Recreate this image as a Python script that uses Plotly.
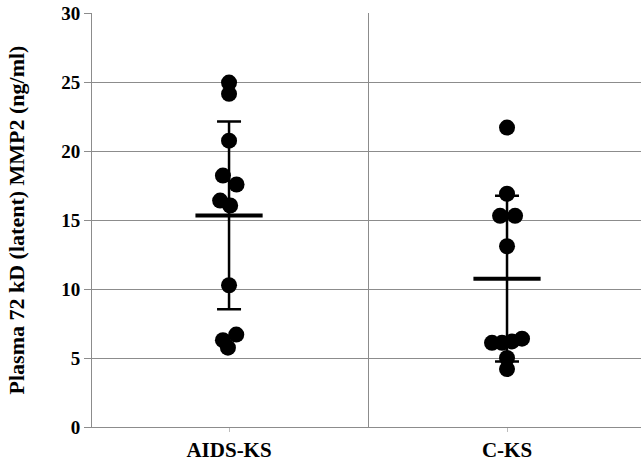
import plotly.graph_objects as go

categories = ["AIDS-KS", "C-KS"]

aids_values = [24.96, 24.14, 20.75, 18.22, 17.57, 16.41, 16.05, 10.27, 6.70, 6.29, 5.75]
aids_offsets = [0.0, 0.0, 0.0, -0.022, 0.027, -0.032, 0.004, 0.0, 0.026, -0.022, -0.004]

cks_values = [21.7, 16.9, 15.3, 15.3, 13.1, 6.1, 6.1, 6.2, 6.4, 5.0, 4.2]
cks_offsets = [0.0, 0.0, -0.025, 0.029, 0.0, -0.054, -0.018, 0.018, 0.054, 0.0, 0.0]

means = [15.33, 10.75]
sds = [6.8, 6.0]

y_ticks = [0, 5, 10, 15, 20, 25, 30]

fig = go.Figure()

# points
for i, (vals, offs) in enumerate([(aids_values, aids_offsets), (cks_values, cks_offsets)]):
    fig.add_trace(go.Scatter(
        x=[i + o for o in offs], y=vals, mode="markers",
        marker=dict(color="black", size=16, line=dict(width=0)),
        showlegend=False, hoverinfo="y",
    ))

# mean bar + SD error bars
fig.add_trace(go.Scatter(
    x=[0, 1], y=means, mode="markers",
    marker=dict(symbol="line-ew-open", size=48, color="black",
                line=dict(color="black", width=4)),
    error_y=dict(type="data", array=sds, visible=True, color="black",
                 thickness=2.5, width=12),
    showlegend=False, hoverinfo="y",
))

fig.update_layout(
    width=641, height=461,
    margin=dict(l=92, r=0, t=13, b=34),
    paper_bgcolor="white", plot_bgcolor="white",
    font=dict(family="Liberation Serif", color="black"),
    xaxis=dict(
        range=[-0.493, 1.482], tickvals=[0, 1], ticktext=categories,
        automargin=False,
        showgrid=False, zeroline=False,
        showline=True, linecolor="#8c8c8c", linewidth=1,
        ticks="outside", ticklen=4, tickcolor="#bdbdbd",
        tickfont=dict(family="Liberation Serif", size=21, color="black", weight="bold"),
        minor=dict(tick0=0.5, dtick=1, showgrid=True, gridcolor="#8c8c8c", gridwidth=1, ticks=""),
    ),
    yaxis=dict(
        range=[0, 30], tickvals=y_ticks, automargin=False,
        showgrid=True, gridcolor="#8c8c8c", gridwidth=1,
        zeroline=False, showline=True, linecolor="#8c8c8c", linewidth=1,
        ticks="outside", ticklen=7, tickcolor="#8c8c8c",
        tickfont=dict(family="Liberation Serif", size=19, color="black", weight="bold"),
        title=dict(text="Plasma 72 kD (latent) MMP2 (ng/ml)",
                   font=dict(family="Liberation Serif", size=22, color="black", weight="bold"),
                   standoff=30),
    ),
)

fig.write_html("out.html", config={"displayModeBar": False},
               post_script="document.body.style.margin='0px';")
